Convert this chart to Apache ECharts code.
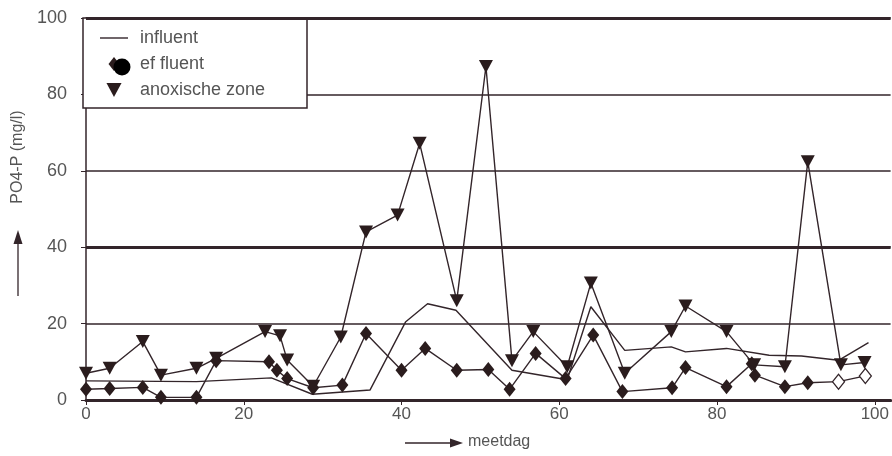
<!DOCTYPE html>
<html>
<head>
<meta charset="utf-8">
<script src="https://cdn.jsdelivr.net/npm/echarts@6/dist/echarts.min.js"></script>
<style>
html,body{margin:0;padding:0;background:#fff;}
#chart{width:892px;height:456px;}
</style>
</head>
<body>
<div id="chart"></div>
<script>
// ---- data ----
const xTicks = [0, 20, 40, 60, 80, 100];
const yTicks = [0, 20, 40, 60, 80, 100];

const influentDay   = [0, 14, 23.5, 28.7, 36, 40.5, 43.3, 46.9, 54, 61, 64, 68.3, 74.2, 76, 81.2, 86.6, 90.7, 95.4, 99.2];
const influentValue = [5, 4.8, 5.8, 1.5, 2.6, 20.4, 25.2, 23.5, 7.8, 5.3, 24.4, 13, 13.9, 12.6, 13.5, 11.7, 11.5, 10.4, 15];

const effluentDay   = [0, 3, 7.2, 9.5, 14, 16.5, 23.2, 24.2, 25.5, 28.8, 32.5, 35.5, 40, 43, 47, 51, 53.7, 57, 60.8, 64.3, 68, 74.3, 76, 81.2, 84.4, 84.8, 88.6, 91.5, 95.4, 98.8];
const effluentValue = [2.8, 3, 3.3, 0.7, 0.7, 10.3, 10, 7.8, 5.6, 3.2, 3.9, 17.4, 7.8, 13.5, 7.8, 8, 2.8, 12.2, 5.6, 17, 2.2, 3.2, 8.5, 3.5, 9.5, 6.5, 3.5, 4.5, 4.8, 6.3];
const effluentOpen  = [28, 29]; // indices drawn as open diamonds

const anoxDay   = [0, 3, 7.2, 9.5, 14, 16.5, 22.7, 24.6, 25.5, 28.8, 32.3, 35.5, 39.5, 42.3, 47, 50.7, 54, 56.7, 61, 64, 68.3, 74.2, 76, 81.2, 84.7, 88.6, 91.5, 95.7, 98.7];
const anoxValue = [7, 8.3, 15.3, 6.5, 8.3, 10.9, 17.9, 16.8, 10.5, 3.6, 16.5, 44, 48.4, 67.2, 26, 87.3, 10.3, 17.9, 8.7, 30.6, 7, 17.9, 24.6, 17.9, 9.2, 8.7, 62.4, 9.2, 9.8];

const names = ['influent', 'ef fluent', 'anoxische zone'];

// ---- styling ----
const ink = '#33252a';
const markInk = '#2a1c1d';
const textColor = '#555';
const font = 'Liberation Sans, Arial, sans-serif';

const zip = (xs, ys) => xs.map((x, i) => [x, ys[i]]);

const effluentData = zip(effluentDay, effluentValue).map((p, i) =>
  effluentOpen.includes(i)
    ? { value: p, itemStyle: { color: '#fff', borderColor: ink, borderWidth: 1.3 } }
    : { value: p });

const chart = echarts.init(document.getElementById('chart'), null, { renderer: 'canvas' });

chart.setOption({
  backgroundColor: '#fff',
  animation: false,
  grid: { left: 86, right: 0, top: 18, bottom: 56, containLabel: false },
  xAxis: {
    type: 'value', min: 0, max: 102, interval: 20,
    axisLine: { show: true, lineStyle: { color: ink, width: 3 } },
    axisTick: { show: true, length: 5, lineStyle: { color: ink, width: 1 } },
    axisLabel: {
      color: textColor, fontSize: 17, fontFamily: font, margin: 6,
      showMaxLabel: false,
      formatter: v => (xTicks.includes(v) ? String(v) : '')
    },
    splitLine: { show: false }
  },
  yAxis: {
    type: 'value', min: 0, max: 100, interval: 20,
    axisLine: { show: true, lineStyle: { color: ink, width: 1.5 } },
    axisTick: { show: true, length: 5, lineStyle: { color: ink, width: 1 } },
    axisLabel: {
      color: textColor, fontSize: 18, fontFamily: font, margin: 19,
      formatter: v => (yTicks.includes(v) ? String(v) : '')
    },
    splitLine: { show: true, lineStyle: { color: ink, width: 1.6 } }
  },
  legend: {
    orient: 'vertical',
    left: 83, top: 18,
    padding: [11, 20, 8, 17],
    itemWidth: 28, itemHeight: 14, itemGap: 8,
    selectedMode: false,
    textStyle: { color: textColor, fontSize: 18, lineHeight: 18, fontFamily: font, padding: [0, 0, 0, 7] },
    data: [
      { name: names[0], icon: 'path://M0,0H28V1.4H0Z', itemStyle: { color: ink } },
      { name: names[1], icon: 'path://M5.5,0L11,7L5.5,14L0,7Z', itemStyle: { color: markInk } },
      { name: names[2], icon: 'path://M0,0L14,0L7,13Z', itemStyle: { color: markInk } }
    ]
  },
  graphic: [
    { type: 'rect', z: 3, shape: { x: 83, y: 18, width: 224, height: 90 },
      style: { fill: '#fff', stroke: ink, lineWidth: 1.5 } },
    { type: 'text', z: 10, x: 18, y: 157, rotation: Math.PI / 2,
      style: { text: 'PO4-P (mg/l)', fill: textColor, font: '16px ' + font, align: 'center', verticalAlign: 'middle' } },
    { type: 'line', z: 10, shape: { x1: 18, y1: 296, x2: 18, y2: 240 }, style: { stroke: ink, lineWidth: 1.3 } },
    { type: 'polygon', z: 10, shape: { points: [[18, 230], [22.5, 244], [13.5, 244]] }, style: { fill: ink } },
    { type: 'line', z: 10, shape: { x1: 405, y1: 443, x2: 452, y2: 443 }, style: { stroke: ink, lineWidth: 1.3 } },
    { type: 'polygon', z: 10, shape: { points: [[463, 443], [450, 438.5], [450, 447.5]] }, style: { fill: ink } },
    { type: 'text', z: 10, x: 468, y: 442,
      style: { text: 'meetdag', fill: textColor, font: '16px ' + font, align: 'left', verticalAlign: 'middle' } },
    { type: 'circle', z: 100, shape: { cx: 122, cy: 67, r: 8.5 }, style: { fill: '#000' } }
  ],
  series: [
    {
      name: names[0], type: 'line', data: zip(influentDay, influentValue),
      symbol: 'none', itemStyle: { color: ink },
      lineStyle: { color: ink, width: 1.4 },
      markLine: {
        silent: true, symbol: 'none', label: { show: false },
        lineStyle: { color: ink, width: 2.8, type: 'solid' },
        data: [{ yAxis: 40 }, { yAxis: 100 }]
      },
      z: 2
    },
    {
      name: names[1], type: 'line', data: effluentData,
      symbol: 'diamond', symbolSize: [12, 15],
      itemStyle: { color: markInk }, lineStyle: { color: ink, width: 1.4 },
      z: 2
    },
    {
      name: names[2], type: 'line', data: zip(anoxDay, anoxValue),
      symbol: 'triangle', symbolRotate: 180, symbolSize: [14, 13],
      itemStyle: { color: markInk }, lineStyle: { color: ink, width: 1.4 },
      z: 2
    }
  ]
});
</script>
</body>
</html>
